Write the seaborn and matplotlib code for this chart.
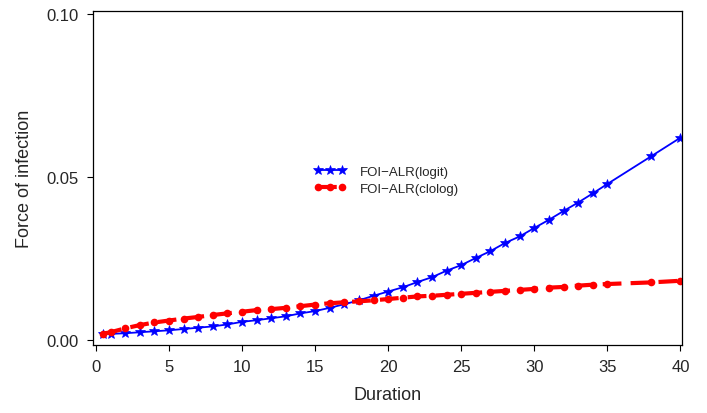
import matplotlib
matplotlib.use("Agg")
import matplotlib.pyplot as plt
import seaborn as sns
import pandas as pd

# Duration grid (years) at which the force of infection was evaluated
duration = [0.5] + list(range(1, 36)) + [38, 40]

# FOI estimates from the logit-link ALR model
foi_logit = [0.0018, 0.0019, 0.0021, 0.0024, 0.0027, 0.0030, 0.0034, 0.0038,
             0.0042, 0.0048, 0.0056, 0.0061, 0.0067, 0.0073, 0.0082, 0.0089,
             0.0099, 0.0110, 0.0122, 0.0136, 0.0149, 0.0162, 0.0178, 0.0193,
             0.0213, 0.0230, 0.0252, 0.0273, 0.0298, 0.0318, 0.0344, 0.0369,
             0.0396, 0.0422, 0.0450, 0.0479, 0.0564, 0.0621]

# FOI estimates from the complementary log-log ALR model
foi_clolog = [0.0020, 0.0024, 0.0036, 0.0046, 0.0054, 0.0060, 0.0066, 0.0071,
              0.0077, 0.0082, 0.0087, 0.0092, 0.0095, 0.0099, 0.0104, 0.0109,
              0.0113, 0.0116, 0.0119, 0.0122, 0.0126, 0.0130, 0.0134, 0.0136,
              0.0139, 0.0142, 0.0145, 0.0148, 0.0151, 0.0154, 0.0157, 0.0161,
              0.0163, 0.0167, 0.0170, 0.0172, 0.0177, 0.0182]

series_names = ["FOI\u2212ALR(logit)", "FOI\u2212ALR(clolog)"]
x_ticks = [0, 5, 10, 15, 20, 25, 30, 35, 40]
y_ticks = [0.00, 0.05, 0.10]

sns.set_style("white")
plt.rcParams["font.family"] = ["Liberation Sans", "DejaVu Sans"]

df_logit = pd.DataFrame({"Duration": duration, "FOI": foi_logit})
df_clolog = pd.DataFrame({"Duration": duration, "FOI": foi_clolog})

fig = plt.figure(figsize=(7.07, 4.14), dpi=100)
ax = fig.add_axes([0.1315, 0.1643, 0.833, 0.807])

sns.lineplot(data=df_logit, x="Duration", y="FOI", ax=ax, color="#0000ff",
             linewidth=1.3, marker="*", markersize=7, markeredgewidth=0.5,
             markeredgecolor="#0000ff", label=series_names[0])
sns.lineplot(data=df_clolog, x="Duration", y="FOI", ax=ax, color="#ff0000",
             linewidth=3.0, marker="o", markersize=5.5, markeredgewidth=0,
             dashes=False, label=series_names[1])
ax.lines[1].set_dashes([4.5, 2.2])

ax.set_xlim(-0.2, 40.1)
ax.set_ylim(-0.0015, 0.101)
ax.set_xticks(x_ticks)
ax.set_yticks(y_ticks)
ax.set_xticklabels([str(t) for t in x_ticks])
ax.set_yticklabels([f"{t:.2f}" for t in y_ticks])
ax.tick_params(axis="both", which="major", direction="out", length=4,
               width=0.8, color="black", labelsize=12, pad=6, left=True,
               bottom=True)
for side in ["left", "bottom", "top", "right"]:
    ax.spines[side].set_visible(True)
    ax.spines[side].set_color("black")
    ax.spines[side].set_linewidth(0.9)

ax.set_xlabel("Duration", fontsize=13, labelpad=9)
ax.set_ylabel("Force of infection", fontsize=13, labelpad=10)

leg = ax.legend(loc="center left", bbox_to_anchor=(0.365, 0.493),
                frameon=False, fontsize=9.5, numpoints=3, handlelength=2.4,
                handletextpad=1.0, labelspacing=0.35, borderpad=0)

fig.savefig("out.png", dpi=100)
